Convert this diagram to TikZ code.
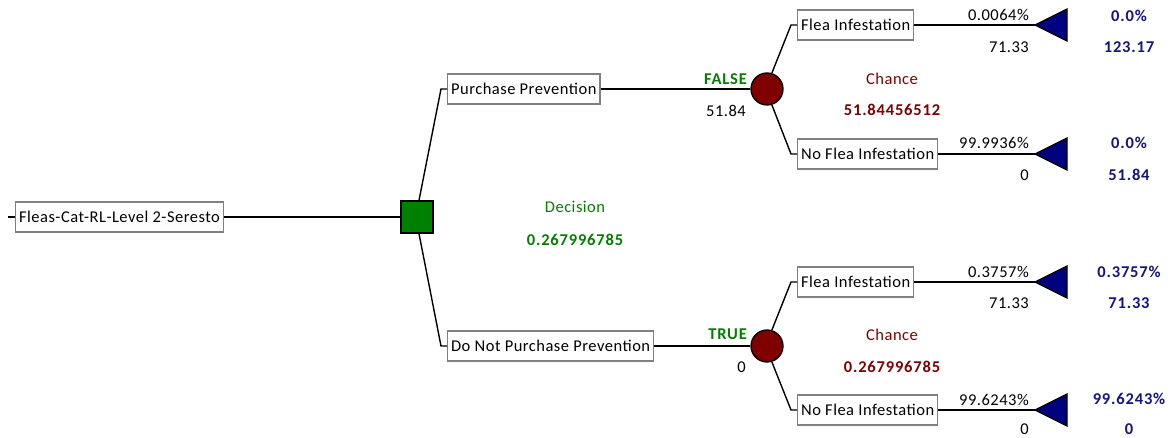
\documentclass[tikz,border=0pt]{standalone}
\usepackage{fontspec}
\setmainfont{Carlito}[LetterSpace=3]
\definecolor{dgreen}{RGB}{0,128,0}
\definecolor{dred}{RGB}{128,0,0}
\definecolor{dblue}{RGB}{0,0,128}
\definecolor{tblue}{RGB}{20,20,130}
\definecolor{boxgray}{RGB}{128,128,128}
\newcommand{\fsz}{\fontsize{16.5}{19}\selectfont}
\newcommand{\fszb}{\fontsize{16.5}{19}\selectfont\bfseries\addfontfeatures{LetterSpace=5}}
\tikzset{
  lbl/.style={draw=boxgray, line width=1.2pt, fill=white, minimum height=30pt, inner xsep=3.5pt, inner ysep=0pt, anchor=west, font=\fsz},
  conn/.style={line width=1.4pt, black},
  decnode/.style={draw=black, line width=1.3pt, fill=dgreen, minimum size=32pt, inner sep=0pt},
  chnode/.style={circle, draw=black, line width=1.3pt, fill=dred, minimum size=32pt, inner sep=0pt},
  endnode/.style={draw=black, line width=1.3pt, fill=dblue},
  txt/.style={inner sep=0pt, font=\fsz},
  rtxt/.style={inner sep=0pt, anchor=east, font=\fsz},
  gtxt/.style={inner sep=0pt, font=\fsz, text=dgreen},
  gbold/.style={inner sep=0pt, font=\fszb, text=dgreen},
  rtxtc/.style={inner sep=0pt, font=\fsz, text=dred},
  rbold/.style={inner sep=0pt, font=\fszb, text=dred},
  bbold/.style={inner sep=0pt, font=\fszb, text=tblue}
}
\begin{document}
\begin{tikzpicture}[x=1pt,y=-1pt]
\useasboundingbox (0,0) rectangle (1174,438);
% root
\coordinate (tick) at (8,217);
\node[lbl] (root) at (15,217) {Fleas-Cat-RL-Level 2-Seresto};
\node[decnode] (dec) at (417,217) {};
\draw[conn] (tick) -- (root.west);
\draw[conn] (root.east) -- (dec.west);
% decision branches
\node[lbl] (pp) at (447,89) {Purchase Prevention};
\node[lbl] (dnp) at (447,346) {Do Not Purchase Prevention};
\coordinate (e1) at (441,89);
\coordinate (e2) at (441,346);
\draw[conn] ([xshift=2pt]dec.north) -- (e1) -- (pp.west);
\draw[conn] ([xshift=2pt]dec.south) -- (e2) -- (dnp.west);
\node[gtxt] (dlab) at (575,207) {Decision};
\node[gbold] (dval) at (575,240) {0.267996785};
% chance nodes
\node[chnode] (c1) at (767,89) {};
\node[chnode] (c2) at (767,346) {};
\draw[conn] (pp.east) -- (c1.west);
\draw[conn] (dnp.east) -- (c2.west);
\node[gbold, anchor=east] (f1) at (747,79) {FALSE};
\node[rtxt] (v1) at (746,111) {51.84};
\node[gbold, anchor=east] (t2) at (747,334) {TRUE};
\node[rtxt] (v2) at (746,367) {0};
% top chance
\node[lbl] (fi1) at (797,25) {Flea Infestation};
\node[lbl] (nf1) at (797,154) {No Flea Infestation};
\coordinate (e3) at (791,25);
\coordinate (e4) at (791,154);
\draw[conn] (c1.73) -- (e3) -- (fi1.west);
\draw[conn] (c1.-73) -- (e4) -- (nf1.west);
\node[rtxtc] (ch1) at (892,79) {Chance};
\node[rbold] (cv1) at (892,110) {51.84456512};
% bottom chance
\node[lbl] (fi2) at (797,282) {Flea Infestation};
\node[lbl] (nf2) at (797,410) {No Flea Infestation};
\coordinate (e5) at (791,282);
\coordinate (e6) at (791,410);
\draw[conn] (c2.73) -- (e5) -- (fi2.west);
\draw[conn] (c2.-73) -- (e6) -- (nf2.west);
\node[rtxtc] (ch2) at (892,335) {Chance};
\node[rbold] (cv2) at (892,367) {0.267996785};
% terminal triangles
\foreach \n/\y in {t1/25, t2b/154, t3/282, t4/410}{
  \coordinate (\n) at (1035,\y);
  \draw[endnode] (\n) -- ++(32,-16) -- ++(0,32) -- cycle;
}
\draw[conn] (fi1.east) -- (t1);
\draw[conn] (nf1.east) -- (t2b);
\draw[conn] (fi2.east) -- (t3);
\draw[conn] (nf2.east) -- (t4);
% branch labels
\node[rtxt] (p1) at (1029,15) {0.0064\%};
\node[rtxt] (q1) at (1029,47) {71.33};
\node[rtxt] (p2) at (1029,143) {99.9936\%};
\node[rtxt] (q2) at (1029,175) {0};
\node[rtxt] (p3) at (1029,272) {0.3757\%};
\node[rtxt] (q3) at (1029,303) {71.33};
\node[rtxt] (p4) at (1029,400) {99.6243\%};
\node[rtxt] (q4) at (1029,429) {0};
% terminal values
\node[bbold] (r1) at (1129,16) {0.0\%};
\node[bbold] (s1) at (1129,47) {123.17};
\node[bbold] (r2) at (1129,143) {0.0\%};
\node[bbold] (s2) at (1129,175) {51.84};
\node[bbold] (r3) at (1129,272) {0.3757\%};
\node[bbold] (s3) at (1129,303) {71.33};
\node[bbold] (r4) at (1129,399) {99.6243\%};
\node[bbold] (s4) at (1129,429) {0};
\end{tikzpicture}
\end{document}
